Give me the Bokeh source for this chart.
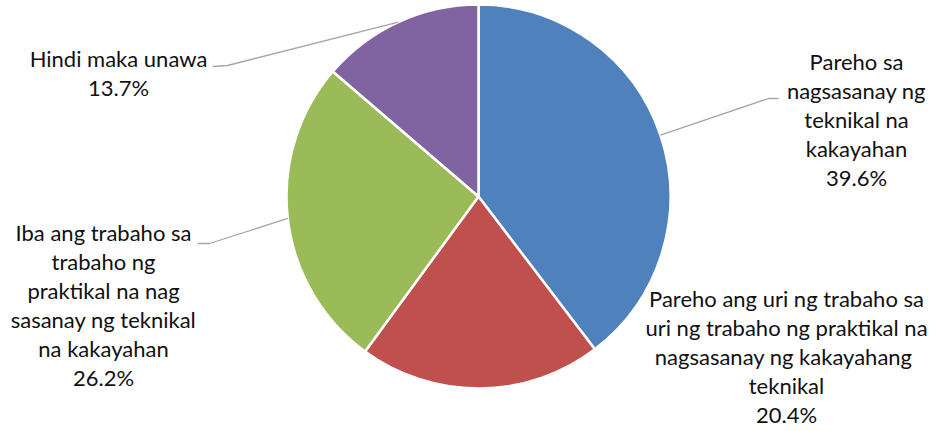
import math
from bokeh.plotting import figure
from bokeh.models import Range1d, ColumnDataSource
from bokeh.core.properties import value
from bokeh.embed import file_html
from bokeh.resources import INLINE

# ---- data ----
labels = [
    ["Pareho sa", "nagsasanay ng", "teknikal na", "kakayahan"],
    ["Pareho ang uri ng trabaho sa", "uri ng trabaho ng praktikal na", "nagsasanay ng  kakayahang", "teknikal"],
    ["Iba ang trabaho sa", "trabaho ng", "praktikal na nag", "sasanay ng teknikal", "na kakayahan"],
    ["Hindi maka unawa"],
]
values = [39.6, 20.4, 26.2, 13.7]
colors = ["#4F81BD", "#C0504D", "#9BBB59", "#8064A2"]

# ---- layout (window pixel coords -> data coords) ----
W, H = 939, 431
def X(xw): return xw
def Y(yw): return H - yw

CX, CY, R = X(478), Y(196), 192
label_pos = [(856, 61), (786, 298), (103, 232), (118, 58)]   # center x, first line y (window)
elbows = [((768, 98), (778, 98)), None, ((209, 243), (197, 243)), ((227, 65), (212, 66))]
LINE_SP = 29
FONT = "Lato"
FS = "22px"

p = figure(width=W, height=H, output_backend="svg", toolbar_location=None,
           x_range=Range1d(0, W), y_range=Range1d(0, H), min_border=0)
p.axis.visible = False
p.grid.visible = False
p.outline_line_color = None
p.background_fill_color = "white"

total = sum(values)
cum = 0.0
starts, ends, mids = [], [], []
for v in values:
    a0 = cum / total
    cum += v
    a1 = cum / total
    starts.append(math.pi / 2 - 2 * math.pi * a1)
    ends.append(math.pi / 2 - 2 * math.pi * a0)
    mids.append(math.pi / 2 - 2 * math.pi * (a0 + a1) / 2)

src = ColumnDataSource(dict(x=[CX] * 4, y=[CY] * 4, s=starts, e=ends, c=colors))
p.wedge(x="x", y="y", radius=R, start_angle="s", end_angle="e", fill_color="c",
        line_color="white", line_width=2.5, source=src)

# leader lines
for i, el in enumerate(elbows):
    if el is None:
        continue
    ex = CX + R * math.cos(mids[i])
    ey = CY + R * math.sin(mids[i])
    (x1, y1), (x2, y2) = el
    p.line([ex, X(x1), X(x2)], [ey, Y(y1), Y(y2)], line_color="#A6A6A6", line_width=1.3)

# labels
tx, ty, tt = [], [], []
for i, lines in enumerate(labels):
    cxw, yw = label_pos[i]
    all_lines = lines + ["%.1f%%" % values[i]]
    for j, ln in enumerate(all_lines):
        tx.append(X(cxw))
        ty.append(Y(yw + j * LINE_SP))
        tt.append(ln)
p.text(x=tx, y=ty, text=tt, text_font=value(FONT), text_font_size=FS,
       text_align="center", text_baseline="middle", text_color="#111111")

open("out.html", "w").write(file_html(p, INLINE))
